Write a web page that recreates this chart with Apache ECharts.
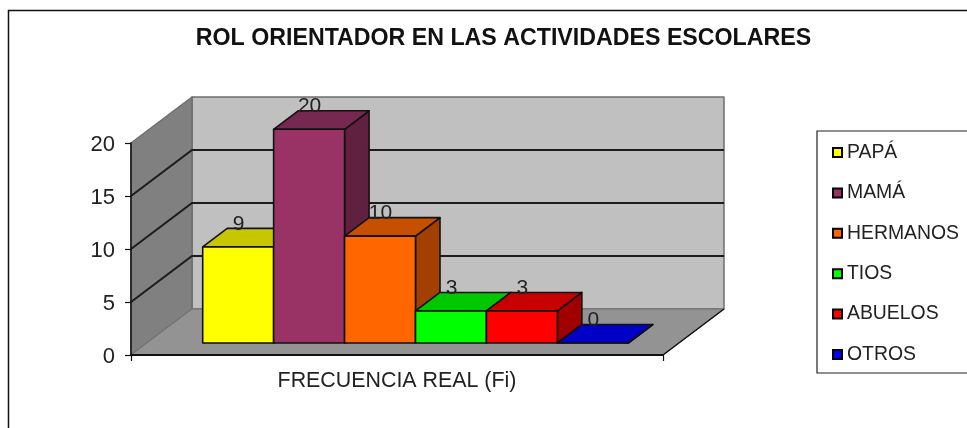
<!DOCTYPE html>
<html>
<head>
<meta charset="utf-8">
<script src="https://cdn.jsdelivr.net/npm/echarts@6/dist/echarts.min.js"></script>
<style>
html, body { margin: 0; padding: 0; background: #fff; }
#main { width: 967px; height: 428px; }
</style>
</head>
<body>
<div id="main"></div>
<script>
var titleText = 'ROL ORIENTADOR EN LAS ACTIVIDADES ESCOLARES';
var categories = ['FRECUENCIA REAL (Fi)'];
var seriesNames = ['PAPÁ', 'MAMÁ', 'HERMANOS', 'TIOS', 'ABUELOS', 'OTROS'];
var seriesValues = [9, 20, 10, 3, 3, 0];
var seriesColors = ['#ffff00', '#993366', '#ff6600', '#00ff00', '#ff0000', '#0000ff'];
var yTicks = [0, 5, 10, 15, 20];

// 3d look: how far the back wall and the bars are pushed from the axis plane
var WALL_DX = 61, WALL_DY = -46;
var BAR_OFF_X = 18.5, BAR_OFF_Y = -12;
var BAR_DX = 24.5, BAR_DY = -18.5;
var BAR_STRETCH = 1.008;
var GAP_BARS = 1.5;
var FONT = '"Liberation Sans", Arial, sans-serif';

function shade(hex, k) {
    var n = parseInt(hex.slice(1), 16);
    var r = Math.round((n >> 16 & 255) * k);
    var g = Math.round((n >> 8 & 255) * k);
    var b = Math.round((n & 255) * k);
    return 'rgb(' + r + ',' + g + ',' + b + ')';
}

function poly(points, fill, stroke, width) {
    return {
        type: 'polygon',
        shape: { points: points },
        style: { fill: fill, stroke: stroke, lineWidth: width, lineJoin: 'round' }
    };
}

function renderWalls(params, api) {
    var band = api.size([1, 0])[0];
    var bottom = api.coord([0, yTicks[0]]);
    var top = api.coord([0, yTicks[yTicks.length - 1]]);
    var l = bottom[0] - band / 2, r = bottom[0] + band / 2;
    var y0 = bottom[1], y1 = top[1];
    return {
        type: 'group',
        children: [
            poly([[l + WALL_DX, y0 + WALL_DY], [r + WALL_DX, y0 + WALL_DY], [r + WALL_DX, y1 + WALL_DY], [l + WALL_DX, y1 + WALL_DY]], '#c0c0c0', '#6e6e6e', 1.5),
            poly([[l, y0], [l + WALL_DX, y0 + WALL_DY], [l + WALL_DX, y1 + WALL_DY], [l, y1]], '#808080', '#6e6e6e', 1.5),
            poly([[l, y0], [r, y0], [r + WALL_DX, y0 + WALL_DY], [l + WALL_DX, y0 + WALL_DY]], '#939393', '#707070', 1),
            {
                type: 'line',
                shape: { x1: r, y1: y0, x2: r + WALL_DX, y2: y0 + WALL_DY },
                style: { stroke: '#111', lineWidth: 1.5 }
            }
        ]
    };
}

function renderGridLine(params, api) {
    var tick = api.value(1);
    var p = api.coord([0, tick]);
    var band = api.size([1, 0])[0];
    var l = p[0] - band / 2, r = p[0] + band / 2;
    return {
        type: 'polyline',
        shape: { points: [[l, p[1]], [l + WALL_DX, p[1] + WALL_DY], [r + WALL_DX, p[1] + WALL_DY]] },
        style: { fill: 'none', stroke: '#1c1c1c', lineWidth: 2 }
    };
}

function makeBarRender(idx) {
    return function (params, api) {
        var band = api.size([1, 0])[0];
        var val = api.value(1);
        var top = api.coord([0, val]);
        var base = api.coord([0, 0]);
        var w = band / (seriesValues.length + GAP_BARS);
        var x = base[0] - band / 2 + BAR_OFF_X + (GAP_BARS / 2 + idx) * w;
        var yb = base[1] + BAR_OFF_Y;
        var yt = yb - (base[1] - top[1]) * BAR_STRETCH;
        var c = seriesColors[idx];
        return {
            type: 'group',
            children: [
                poly([[x + w, yt], [x + w + BAR_DX, yt + BAR_DY], [x + w + BAR_DX, yb + BAR_DY], [x + w, yb]], shade(c, 0.63), '#111', 1.6),
                poly([[x, yt], [x + BAR_DX, yt + BAR_DY], [x + w + BAR_DX, yt + BAR_DY], [x + w, yt]], shade(c, 0.78), '#111', 1.6),
                poly([[x, yb], [x + w, yb], [x + w, yt], [x, yt]], c, '#111', 1.6),
                {
                    type: 'text',
                    z2: 10,
                    style: {
                        x: x + w / 2 + 0.5,
                        y: yt - 23,
                        text: String(val),
                        fill: '#222',
                        font: '21px ' + FONT,
                        align: 'center',
                        verticalAlign: 'middle'
                    }
                }
            ]
        };
    };
}

var series = [
    { type: 'custom', name: 'walls', silent: true, data: [[0, 0]], renderItem: renderWalls, z: 1 },
    {
        type: 'custom', name: 'gridLines', silent: true, z: 2, renderItem: renderGridLine,
        data: yTicks.slice(1, -1).map(function (t) { return [0, t]; })
    }
];
seriesNames.forEach(function (name, i) {
    series.push({
        type: 'custom',
        name: name,
        z: 3,
        renderItem: makeBarRender(i),
        itemStyle: { color: seriesColors[i] },
        data: [[0, seriesValues[i]]]
    });
});

var chart = echarts.init(document.getElementById('main'), null, { renderer: 'canvas' });

var option = {
    animation: false,
    backgroundColor: '#fff',
    title: {
        text: titleText,
        left: 498.5,
        top: 22,
        textAlign: 'center',
        textStyle: { fontFamily: FONT, fontSize: 23.2, fontWeight: 'bold', color: '#111' }
    },
    // outer frame of the original, cut by the right and bottom of the picture
    graphic: [{
        type: 'rect',
        silent: true,
        z: -1,
        shape: { x: 8.5, y: 10.5, width: 1100, height: 600 },
        style: { fill: 'none', stroke: '#111', lineWidth: 1.5 }
    }],
    legend: {
        data: seriesNames,
        orient: 'vertical',
        left: 817,
        top: 131,
        padding: [12, 60, 9, 15],
        itemWidth: 9,
        itemHeight: 9,
        itemGap: 21.4,
        icon: 'rect',
        selectedMode: false,
        borderColor: '#222',
        borderWidth: 1.2,
        itemStyle: { borderColor: '#000', borderWidth: 2 },
        textStyle: { fontFamily: FONT, fontSize: 19.4, color: '#222', padding: [0, 0, 0, 0] }
    },
    grid: { left: 131, top: 143, width: 532, height: 212 },
    xAxis: {
        type: 'category',
        data: categories,
        z: 5,
        axisLine: { lineStyle: { color: '#111', width: 2 } },
        axisTick: { show: true, length: 6, lineStyle: { color: '#111', width: 1.2 } },
        axisLabel: { margin: 16, fontFamily: FONT, fontSize: 21.4, color: '#222' }
    },
    yAxis: {
        type: 'value',
        min: yTicks[0],
        max: yTicks[yTicks.length - 1],
        interval: 5,
        z: 5,
        axisLine: { show: true, lineStyle: { color: '#111', width: 1.5 } },
        axisTick: { show: true, length: 6, lineStyle: { color: '#111', width: 1.2 } },
        axisLabel: {
            margin: 16,
            formatter: '{v|{value}}',
            rich: { v: { padding: [4, 0, 0, 0], fontFamily: FONT, fontSize: 22, color: '#222' } }
        },
        splitLine: { show: false }
    },
    series: series
};

chart.setOption(option);
</script>
</body>
</html>
